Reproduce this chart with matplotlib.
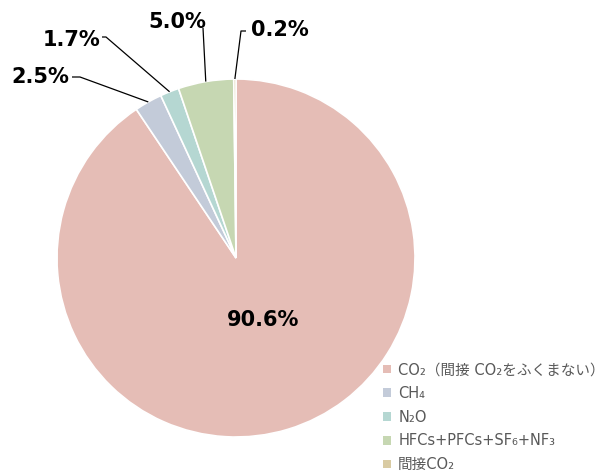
import numpy as np
import matplotlib
matplotlib.use("Agg")
import matplotlib.pyplot as plt
from matplotlib.patches import Patch

# greenhouse gas shares (%)
gases = ["CO₂（間接 CO₂をふくまない）", "CH₄", "N₂O", "HFCs+PFCs+SF₆+NF₃", "間接CO₂"]
shares = [90.6, 2.5, 1.7, 5.0, 0.2]
colors = ["#E5BDB6", "#C3CBD9", "#B5D7D2", "#C6D7B2", "#D9CBA3"]

plt.rcParams['font.family'] = ['DejaVu Sans', 'Noto Sans CJK JP']

W, H = 605, 475
fig = plt.figure(figsize=(W / 100, H / 100), dpi=100)
ax = fig.add_axes([0, 0, 1, 1])
ax.set_xlim(0, W)
ax.set_ylim(0, H)
ax.set_aspect('equal')
ax.axis('off')

cx, cy, r = 236, H - 258, 179
wedges, _ = ax.pie(shares, colors=colors, startangle=90, counterclock=False,
                   center=(cx, cy), radius=r,
                   wedgeprops=dict(edgecolor='white', linewidth=1.2))
ax.set_xlim(0, W)
ax.set_ylim(0, H)

lbl = dict(fontsize=15, fontweight='bold', family='DejaVu Sans', color='black',
           ha='center', va='center')

# big slice label inside
ax.text(263, H - 320, f"{shares[0]}%", **lbl)

# small slices: label position and elbow of leader line (pixels from top)
outer = {1: ((40, 77), [(72, 77), (80, 77)]),
         2: ((72, 40), [(102, 37), (106, 37)]),
         3: ((177, 22), [(203, 28)]),
         4: ((280, 30), [(246, 31), (241, 31)])}
for i, ((tx, ty), elbow) in outer.items():
    w = wedges[i]
    ang = np.deg2rad((w.theta1 + w.theta2) / 2)
    px = cx + r * np.cos(ang)
    py = cy + r * np.sin(ang)
    xs = [e[0] for e in elbow] + [px]
    ys = [H - e[1] for e in elbow] + [py]
    ax.plot(xs, ys, color='black', lw=0.9, solid_capstyle='butt')
    ax.text(tx, H - ty, f"{shares[i]}%", **lbl)

handles = [Patch(facecolor=c, edgecolor='none') for c in colors]
leg = ax.legend(handles, gases, loc='lower left', bbox_to_anchor=(377 / W, -3 / H),
                frameon=False, fontsize=10.5, handlelength=0.55, handleheight=0.55,
                handletextpad=0.5, labelspacing=0.6, borderaxespad=0)
for t in leg.get_texts():
    t.set_color('#595959')

fig.savefig("out.png", dpi=100)
